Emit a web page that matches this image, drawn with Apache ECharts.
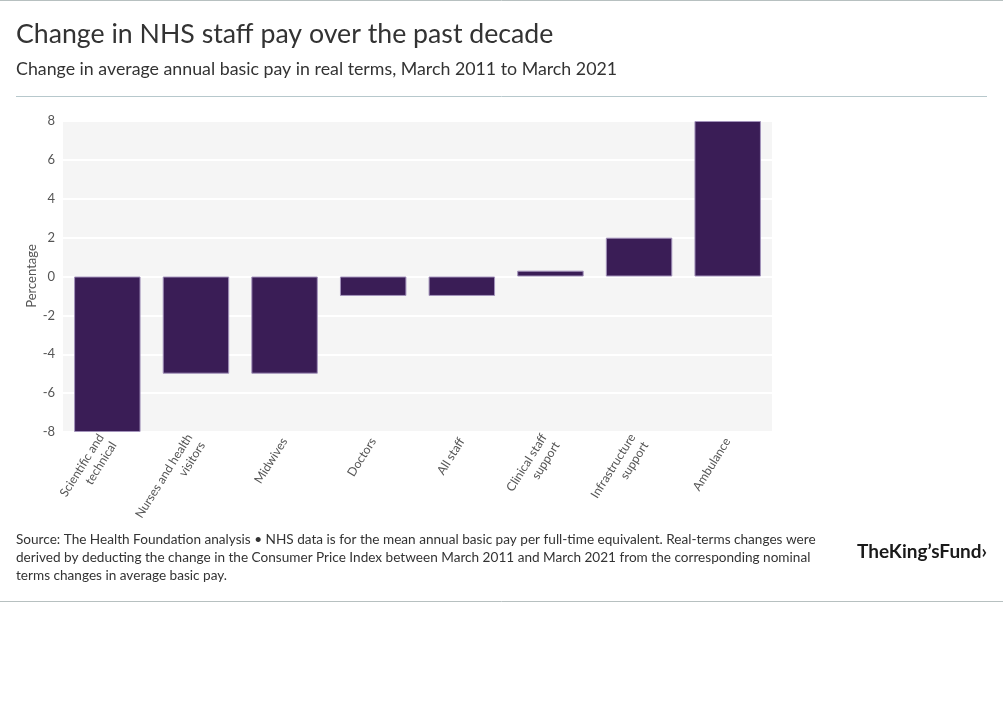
<!DOCTYPE html>
<html>
<head>
<meta charset="utf-8">
<title>Change in NHS staff pay over the past decade</title>
<script src="https://cdn.jsdelivr.net/npm/echarts@6/dist/echarts.min.js"></script>
<style>
  html, body { margin: 0; padding: 0; background: #fff; }
  #chart { width: 1003px; height: 725px; }
</style>
</head>
<body>
<div id="chart"></div>
<script>
// staff groups and real-terms pay change (%), March 2011 to March 2021
var categories = [
  'Scientific and\ntechnical',
  'Nurses and health\nvisitors',
  'Midwives',
  'Doctors',
  'All staff',
  'Clinical staff\nsupport',
  'Infrastructure\nsupport',
  'Ambulance'
];
var payChange = [-8, -5, -5, -1, -1, 0.3, 2, 8];
var yTicks = [-8, -6, -4, -2, 0, 2, 4, 6, 8];

var FONT = 'Lato, "Open Sans", sans-serif';
var chart = echarts.init(document.getElementById('chart'));

var option = {
  animation: false,
  textStyle: { fontFamily: FONT },
  title: [{
    text: 'Change in NHS staff pay over the past decade',
    left: 16,
    top: 21,
    padding: 0,
    textStyle: { fontSize: 26.7, fontWeight: 'normal', color: '#333', fontFamily: FONT }
  }, {
    text: 'Change in average annual basic pay in real terms, March 2011 to March 2021',
    left: 16,
    top: 60,
    padding: 0,
    textStyle: { fontSize: 17.8, fontWeight: 'normal', color: '#333', fontFamily: FONT }
  }],
  grid: {
    left: 63,
    right: 231,
    top: 121,
    bottom: 293,
    show: true,
    backgroundColor: '#f5f5f5',
    borderWidth: 0
  },
  xAxis: {
    type: 'category',
    data: categories,
    axisLine: { show: false },
    axisTick: { show: false },
    axisLabel: {
      rotate: 58,
      interval: 0,
      color: '#555',
      fontSize: 12.2,
      margin: 7,
      lineHeight: 15,
      fontFamily: FONT
    }
  },
  yAxis: {
    type: 'value',
    min: -8,
    max: 8,
    interval: 2,
    axisLine: { show: false },
    axisTick: { show: false },
    axisLabel: {
      color: '#555',
      fontSize: 13,
      margin: 8,
      fontFamily: FONT,
      formatter: function (v) { return yTicks.indexOf(v) >= 0 ? String(v) : ''; }
    },
    splitLine: { lineStyle: { color: '#ffffff', width: 2 } }
  },
  series: [{
    type: 'bar',
    data: payChange,
    barWidth: '75%',
    itemStyle: {
      color: '#3a1d56',
      borderColor: '#a393bb',
      borderWidth: 1
    }
  }],
  graphic: [
    { type: 'line', shape: { x1: 0, y1: 0.5, x2: 1003, y2: 0.5 }, style: { stroke: '#b7c0c0', lineWidth: 1 } },
    { type: 'line', shape: { x1: 16, y1: 96.5, x2: 987, y2: 96.5 }, style: { stroke: '#b7c8cc', lineWidth: 1 } },
    { type: 'line', shape: { x1: 0, y1: 601.5, x2: 1003, y2: 601.5 }, style: { stroke: '#b7c0c0', lineWidth: 1 } },
    // y axis title
    {
      type: 'text',
      x: 32,
      y: 276,
      rotation: Math.PI / 2,
      style: {
        text: 'Percentage',
        font: '13px ' + FONT,
        fill: '#555',
        align: 'center',
        verticalAlign: 'middle'
      }
    },
    {
      type: 'text',
      left: 16,
      top: 531,
      style: {
        text: 'Source: The Health Foundation analysis \u2022 NHS data is for the mean annual basic pay per full-time equivalent. Real-terms changes were\n' +
              'derived by deducting the change in the Consumer Price Index between March 2011 and March 2021 from the corresponding nominal\n' +
              'terms changes in average basic pay.',
        font: '13.6px ' + FONT,
        fill: '#333',
        lineHeight: 18
      }
    },
    {
      type: 'text',
      left: 857,
      top: 542,
      style: {
        text: 'TheKing\u2019sFund\u203A',
        font: 'bold 19px ' + FONT,
        fill: '#1a1a1a'
      }
    }
  ]
};

chart.setOption(option);
</script>
</body>
</html>
